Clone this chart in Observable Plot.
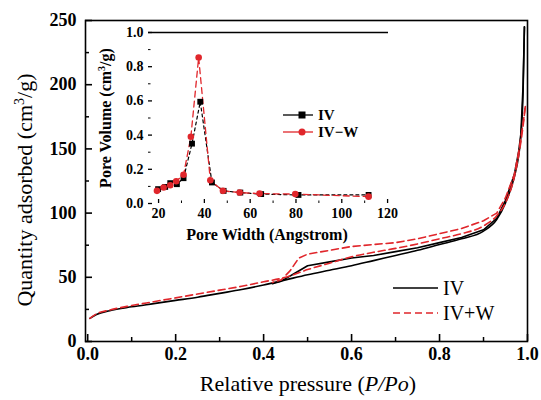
<!DOCTYPE html>
<html><head><meta charset="utf-8">
<script src="https://cdn.jsdelivr.net/npm/d3@7"></script>
<script src="https://cdn.jsdelivr.net/npm/@observablehq/plot@0.6"></script>
<style>
body{margin:0;background:#fff;}
#wrap{position:relative;width:541px;height:400px;background:#fff;}
#wrap svg{position:absolute;left:0;top:0;font-family:'Liberation Serif','DejaVu Serif',serif;}
#wrap svg text{font-family:'Liberation Serif','DejaVu Serif',serif;}
</style></head><body><div id="wrap"></div>
<script>
// ---- Main isotherm data (relative pressure P/Po, quantity adsorbed cm3/g)
const ivAdsP = [0.005,0.02,0.05,0.1,0.15,0.2,0.25,0.3,0.35,0.4,0.45,0.5,0.55,0.6,0.65,0.7,0.75,0.8,0.85,0.9,0.93,0.95,0.97,0.98,0.985,0.99,0.993];
const ivAdsQ = [18,21,24,27,29.5,32,34.5,37.5,40.5,44,48,52,55.5,59,63,67,71,75.5,80,86,95,108,128,145,160,195,245];
const ivDesP = [0.993,0.99,0.985,0.98,0.97,0.95,0.93,0.9,0.85,0.8,0.75,0.7,0.65,0.6,0.55,0.5,0.47,0.44,0.42];
const ivDesQ = [245,200,162,148,130,110,96,87,81,77,73,70,67,65,62,59,53,47,45];
const ivwAdsP = [0.005,0.02,0.05,0.1,0.15,0.2,0.25,0.3,0.35,0.4,0.45,0.5,0.55,0.6,0.65,0.7,0.75,0.8,0.85,0.9,0.93,0.95,0.97,0.98,0.99,0.995];
const ivwAdsQ = [18,21.5,24.5,28,31,34,37,40,43,46.5,50,56,61,66,69.5,72.5,76,80,84,90,98,108,128,145,168,183];
const ivwDesP = [0.995,0.99,0.98,0.97,0.95,0.93,0.9,0.85,0.8,0.75,0.7,0.65,0.6,0.55,0.5,0.48,0.46,0.44,0.42];
const ivwDesQ = [183,170,148,130,112,100,94,88,84,80,77,75.5,74,71,68,65,55,48,46];

// ---- Inset pore size distribution (pore width Angstrom, pore volume)
const poreIVW = [19.8,22.9,25.1,28,30.9,34.6,38.2,43.3,48.4,55.7,64.8,81.1,111.7];
const poreIVV = [0.084,0.097,0.119,0.113,0.148,0.35,0.595,0.123,0.074,0.064,0.055,0.05,0.05];
const poreIVWW = [19.3,22.2,25.1,27.7,30.9,34.1,37.5,42.6,48.1,55.4,64.1,79.7,111.7];
const poreIVWV = [0.074,0.094,0.107,0.13,0.168,0.39,0.854,0.136,0.074,0.064,0.058,0.055,0.04];

// ---- Ticks
const mainXMajor = [0,0.2,0.4,0.6,0.8,1.0];
const mainXMinor = [0.1,0.3,0.5,0.7,0.9];
const mainYMajor = [0,50,100,150,200,250];
const mainYMinor = [25,75,125,175,225];
const insetXMajor = [20,40,60,80,100,120];
const insetXMinor = [30,50,70,90,110];
const insetYMajor = [0,0.2,0.4,0.6,0.8,1.0];
const insetYMinor = [0.1,0.3,0.5,0.7,0.9];

const RED = "#e0262b";
const toRows = (xs, ys) => xs.map((x, i) => ({x, y: ys[i]}));

const serif = "'Liberation Serif','DejaVu Serif',serif";

const main = Plot.plot({
  width: 541, height: 400,
  marginLeft: 85, marginRight: 14, marginTop: 20, marginBottom: 59,
  x: {domain: [-0.005, 1]},
  y: {domain: [0, 250]},
  style: {fontFamily: serif, background: "transparent", color: "#000"},
  marks: [
    Plot.line(toRows(ivAdsP, ivAdsQ), {x: "x", y: "y", stroke: "#000", strokeWidth: 1.6, curve: "monotone-x"}),
    Plot.line(toRows(ivDesP, ivDesQ), {x: "x", y: "y", stroke: "#000", strokeWidth: 1.6}),
    Plot.line(toRows(ivwAdsP, ivwAdsQ), {x: "x", y: "y", stroke: RED, strokeWidth: 1.6, strokeDasharray: "7,4", curve: "monotone-x"}),
    Plot.line(toRows(ivwDesP, ivwDesQ), {x: "x", y: "y", stroke: RED, strokeWidth: 1.6, strokeDasharray: "7,4"}),
    Plot.axisX(mainXMajor, {tickSize: -7, tickPadding: 13, fontSize: 18, fontWeight: "bold", tickFormat: d => d.toFixed(1), label: null, strokeWidth: 1.6}),
    Plot.axisX(mainXMinor, {tickSize: -4, tickFormat: () => "", label: null, strokeWidth: 1.5}),
    Plot.axisY(mainYMajor, {tickSize: -7, tickPadding: 16, fontSize: 18, fontWeight: "bold", tickFormat: d => String(d), label: null, strokeWidth: 1.6}),
    Plot.axisY(mainYMinor, {tickSize: -4, tickFormat: () => "", label: null, strokeWidth: 1.5}),
    Plot.frame({stroke: "#000", strokeWidth: 1.6})
  ]
});

const inset = Plot.plot({
  width: 541, height: 400,
  marginLeft: 148, marginRight: 153, marginTop: 32, marginBottom: 197,
  x: {domain: [15.6, 120.4]},
  y: {domain: [0, 1]},
  style: {fontFamily: serif, background: "transparent", color: "#000"},
  marks: [
    Plot.ruleY([1], {stroke: "#000", strokeWidth: 1.3}),
    Plot.line(toRows(poreIVW, poreIVV), {x: "x", y: "y", stroke: "#000", strokeWidth: 1.2, strokeDasharray: "3,3"}),
    Plot.line(toRows(poreIVWW, poreIVWV), {x: "x", y: "y", stroke: RED, strokeWidth: 1.3, strokeDasharray: "6,4"}),
    Plot.dot(toRows(poreIVW, poreIVV), {x: "x", y: "y", symbol: "square", fill: "#000", r: 3.3}),
    Plot.dot(toRows(poreIVWW, poreIVWV), {x: "x", y: "y", symbol: "circle", fill: RED, r: 3.3}),
    Plot.axisX(insetXMajor, {tickSize: -4, tickPadding: 9, fontSize: 14, fontWeight: "bold", label: null, line: true, strokeWidth: 1.3}),
    Plot.axisX(insetXMinor, {tickSize: -2.5, tickFormat: () => "", label: null}),
    Plot.axisY(insetYMajor, {tickSize: -4, tickPadding: 9, fontSize: 14, fontWeight: "bold", tickFormat: d => d.toFixed(1), label: null, line: true, strokeWidth: 1.3}),
    Plot.axisY(insetYMinor, {tickSize: -2.5, tickFormat: () => "", label: null})
  ]
});

const wrap = document.getElementById("wrap");
wrap.appendChild(main);
wrap.appendChild(inset);

function txt(sel, x, y, size, anchor, weight) {
  return sel.append("text").attr("x", x).attr("y", y).attr("text-anchor", anchor)
    .attr("font-family", serif).attr("font-size", size).attr("font-weight", weight || "normal").attr("fill", "#000");
}

// Titles and legends
const ms = d3.select(main);
txt(ms, 308, 391, 22, "middle").call(t => {
  t.append("tspan").text("Relative pressure (");
  t.append("tspan").attr("font-style", "italic").text("P/Po");
  t.append("tspan").text(")");
});
txt(ms, 0, 0, 22, "middle").attr("transform", "translate(32,190) rotate(-90)").call(t => {
  t.append("tspan").text("Quantity adsorbed (cm");
  t.append("tspan").attr("font-size", 14).attr("dy", -8).text("3");
  t.append("tspan").attr("dy", 8).text("/g)");
});
// main legend
ms.append("line").attr("x1", 393).attr("x2", 438).attr("y1", 288).attr("y2", 288).attr("stroke", "#000").attr("stroke-width", 1.6);
txt(ms, 443, 295, 20, "start").text("IV");
ms.append("line").attr("x1", 393).attr("x2", 438).attr("y1", 313).attr("y2", 313).attr("stroke", RED).attr("stroke-width", 1.6).attr("stroke-dasharray", "7,4");
txt(ms, 443, 320, 20, "start").text("IV+W");

const is = d3.select(inset);
txt(is, 267, 240, 16, "middle", "bold").text("Pore Width (Angstrom)");
txt(is, 0, 0, 16, "middle", "bold").attr("transform", "translate(111,118) rotate(-90)").call(t => {
  t.append("tspan").text("Pore Volume (cm");
  t.append("tspan").attr("font-size", 10).attr("dy", -6).text("3");
  t.append("tspan").attr("dy", 6).text("/g)");
});
// inset legend
is.append("line").attr("x1", 283).attr("x2", 313).attr("y1", 115).attr("y2", 115).attr("stroke", "#000").attr("stroke-width", 1.3);
is.append("rect").attr("x", 298.5).attr("y", 111.5).attr("width", 7).attr("height", 7).attr("fill", "#000");
txt(is, 318, 120, 15, "start", "bold").text("IV");
is.append("line").attr("x1", 283).attr("x2", 313).attr("y1", 132).attr("y2", 132).attr("stroke", RED).attr("stroke-width", 1.3);
is.append("circle").attr("cx", 302).attr("cy", 132).attr("r", 3.5).attr("fill", RED);
txt(is, 318, 137, 15, "start", "bold").text("IV\u2212W");
</script>
</body></html>
